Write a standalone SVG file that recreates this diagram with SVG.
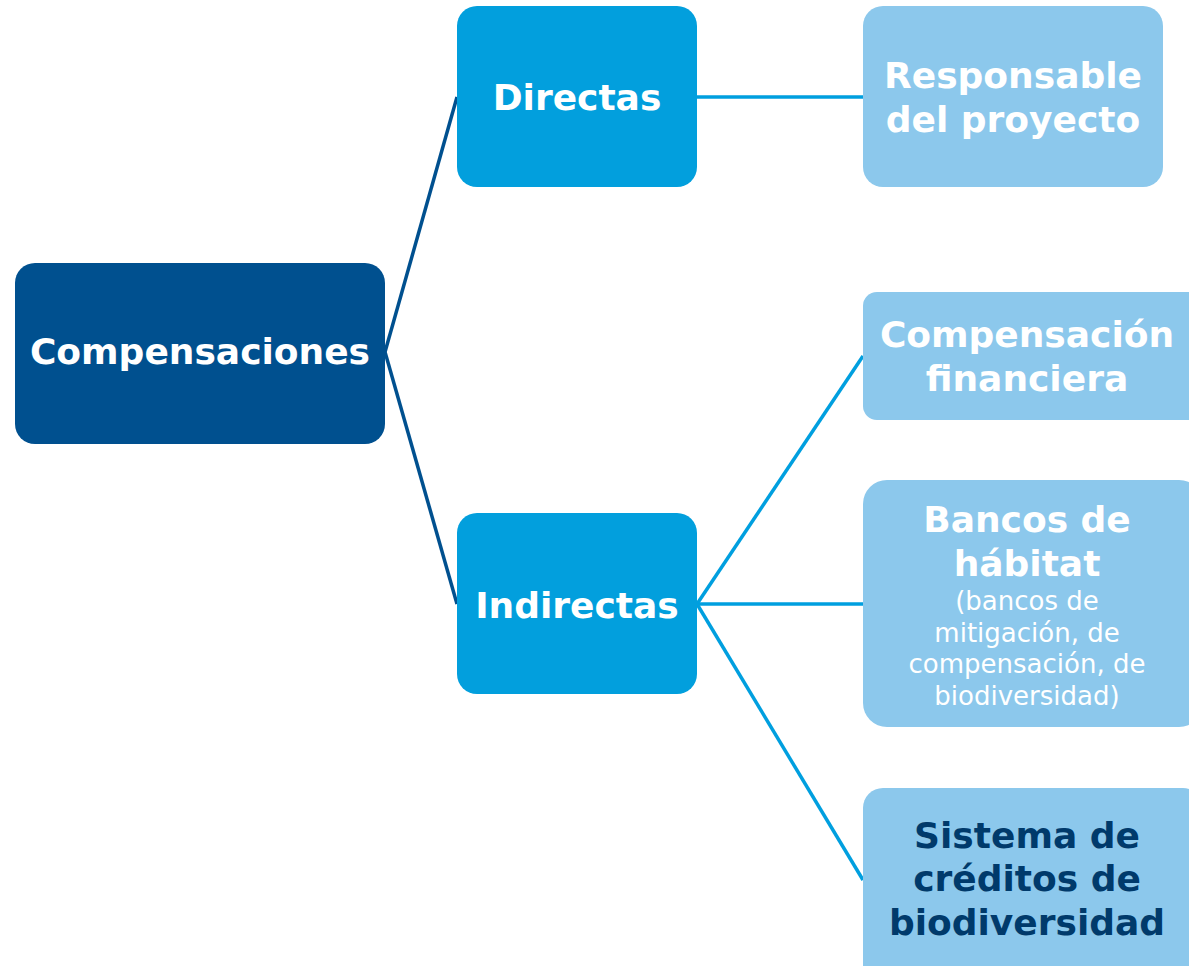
<svg xmlns="http://www.w3.org/2000/svg" width="1189" height="966" viewBox="0 0 1189 966">
<style>
.t{font-family:"DejaVu Sans","Liberation Sans",sans-serif;font-weight:bold;font-size:36px;fill:#ffffff;text-anchor:middle}
.s{font-family:"DejaVu Sans","Liberation Sans",sans-serif;font-weight:normal;font-size:26px;fill:#ffffff;text-anchor:middle}
.dk{fill:#003a6b}
.c1{stroke:#00508f;stroke-width:3.5;fill:none}
.c2{stroke:#009fdf;stroke-width:3.5;fill:none}
</style>
<rect width="1189" height="966" fill="#ffffff"/>
<g id="connectors">
<line class="c1" x1="385" y1="352" x2="457" y2="97"/>
<line class="c1" x1="385" y1="352" x2="457" y2="604"/>
<line class="c2" x1="697" y1="97" x2="863" y2="97"/>
<line class="c2" x1="697" y1="604" x2="863" y2="356"/>
<line class="c2" x1="697" y1="604" x2="863" y2="604"/>
<line class="c2" x1="697" y1="604" x2="863" y2="880"/>
</g>
<g id="compensaciones">
<rect x="15" y="263" width="370" height="181" rx="20" fill="#00508f"/>
<text class="t" x="200" y="364">Compensaciones</text>
</g>
<g id="directas">
<rect x="457" y="6" width="240" height="181" rx="20" fill="#029fdd"/>
<text class="t" x="577" y="110">Directas</text>
</g>
<g id="indirectas">
<rect x="457" y="513" width="240" height="181" rx="20" fill="#029fdd"/>
<text class="t" x="577" y="618">Indirectas</text>
</g>
<g id="responsable">
<rect x="863" y="6" width="300" height="181" rx="20" fill="#8cc8ec"/>
<text class="t" x="1013" y="88">Responsable</text>
<text class="t" x="1013" y="132">del proyecto</text>
</g>
<g id="financiera">
<rect x="863" y="292" width="340" height="128" rx="14" fill="#8cc8ec"/>
<text class="t" x="1027" y="347">Compensación</text>
<text class="t" x="1027" y="391">financiera</text>
</g>
<g id="bancos">
<rect x="863" y="480" width="340" height="247" rx="24" fill="#8cc8ec"/>
<text class="t" x="1027" y="532">Bancos de</text>
<text class="t" x="1027" y="576">hábitat</text>
<text class="s" x="1027" y="610">(bancos de</text>
<text class="s" x="1027" y="642">mitigación, de</text>
<text class="s" x="1027" y="673">compensación, de</text>
<text class="s" x="1027" y="705">biodiversidad)</text>
</g>
<g id="sistema">
<rect x="863" y="788" width="340" height="200" rx="20" fill="#8cc8ec"/>
<text class="t dk" x="1027" y="848">Sistema de</text>
<text class="t dk" x="1027" y="891">créditos de</text>
<text class="t dk" x="1027" y="935">biodiversidad</text>
</g>
</svg>
